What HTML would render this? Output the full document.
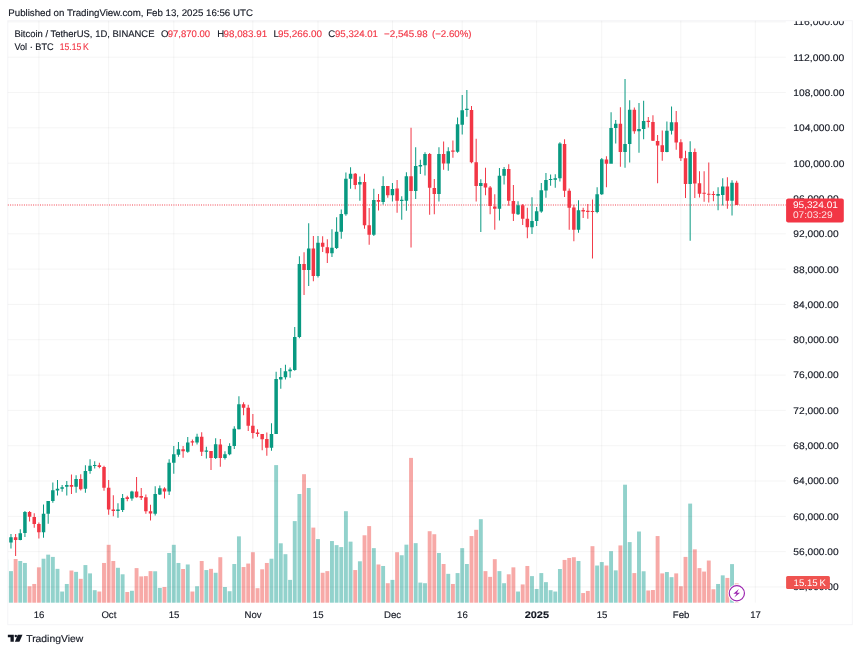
<!DOCTYPE html>
<html lang="en"><head><meta charset="utf-8"><title>BTCUSDT chart</title>
<style>html,body{margin:0;padding:0;background:#fff}body{width:860px;height:652px;overflow:hidden;position:relative}svg{position:absolute;left:0;top:0;display:block}text{font-family:"Liberation Sans", Arial, sans-serif;fill:#131722;text-rendering:geometricPrecision;stroke:#131722;stroke-width:.14px;paint-order:stroke}.ax{font-size:9.6px}.hd{font-size:9.6px}.r,.r tspan{fill:#F23645;stroke:#F23645}.w{fill:#fff;stroke:none}</style></head><body>
<svg style="will-change:transform" width="860" height="652" viewBox="0 0 860 652">
<rect width="860" height="652" fill="#fff"/>
<text class="hd" x="8.3" y="15.6" textLength="244.6" lengthAdjust="spacingAndGlyphs">Published on TradingView.com, Feb 13, 2025 16:56 UTC</text>
<defs><clipPath id="pc"><rect x="8.3" y="21.2" width="777.5" height="582.0"/></clipPath><clipPath id="fc"><rect x="8.3" y="21.2" width="843.5" height="603.0"/></clipPath></defs>
<rect x="7.8" y="20.7" width="844.5" height="604.0" fill="none" stroke="#f4f4f7" stroke-width="1"/>
<g clip-path="url(#pc)">
<rect x="4.37" y="559.50" width="3.90" height="43.20" fill="#92D2CC" opacity="0.5"/>
<rect x="9.02" y="571.12" width="3.90" height="31.58" fill="#92D2CC"/>
<rect x="13.67" y="559.02" width="3.90" height="43.68" fill="#F7A9A7"/>
<rect x="18.32" y="560.99" width="3.90" height="41.71" fill="#92D2CC"/>
<rect x="22.98" y="562.96" width="3.90" height="39.74" fill="#92D2CC"/>
<rect x="27.63" y="586.24" width="3.90" height="16.46" fill="#F7A9A7"/>
<rect x="32.28" y="583.97" width="3.90" height="18.73" fill="#F7A9A7"/>
<rect x="36.93" y="567.34" width="3.90" height="35.36" fill="#F7A9A7"/>
<rect x="41.58" y="558.72" width="3.90" height="43.98" fill="#92D2CC"/>
<rect x="46.24" y="554.64" width="3.90" height="48.06" fill="#92D2CC"/>
<rect x="50.89" y="556.91" width="3.90" height="45.79" fill="#92D2CC"/>
<rect x="55.54" y="568.85" width="3.90" height="33.85" fill="#92D2CC"/>
<rect x="60.19" y="591.53" width="3.90" height="11.17" fill="#92D2CC"/>
<rect x="64.84" y="583.97" width="3.90" height="18.73" fill="#92D2CC"/>
<rect x="69.50" y="570.51" width="3.90" height="32.19" fill="#F7A9A7"/>
<rect x="74.15" y="571.87" width="3.90" height="30.83" fill="#92D2CC"/>
<rect x="78.80" y="578.83" width="3.90" height="23.87" fill="#F7A9A7"/>
<rect x="83.45" y="565.07" width="3.90" height="37.63" fill="#92D2CC"/>
<rect x="88.10" y="573.39" width="3.90" height="29.31" fill="#92D2CC"/>
<rect x="92.76" y="590.17" width="3.90" height="12.53" fill="#92D2CC"/>
<rect x="97.41" y="591.53" width="3.90" height="11.17" fill="#F7A9A7"/>
<rect x="102.06" y="562.96" width="3.90" height="39.74" fill="#F7A9A7"/>
<rect x="106.71" y="544.81" width="3.90" height="57.89" fill="#F7A9A7"/>
<rect x="111.36" y="560.99" width="3.90" height="41.71" fill="#F7A9A7"/>
<rect x="116.02" y="567.79" width="3.90" height="34.91" fill="#92D2CC"/>
<rect x="120.67" y="574.29" width="3.90" height="28.41" fill="#92D2CC"/>
<rect x="125.32" y="591.98" width="3.90" height="10.72" fill="#F7A9A7"/>
<rect x="129.97" y="590.77" width="3.90" height="11.93" fill="#92D2CC"/>
<rect x="134.62" y="568.10" width="3.90" height="34.60" fill="#F7A9A7"/>
<rect x="139.28" y="576.41" width="3.90" height="26.29" fill="#F7A9A7"/>
<rect x="143.93" y="576.11" width="3.90" height="26.59" fill="#F7A9A7"/>
<rect x="148.58" y="571.12" width="3.90" height="31.58" fill="#F7A9A7"/>
<rect x="153.23" y="571.27" width="3.90" height="31.43" fill="#92D2CC"/>
<rect x="157.88" y="587.90" width="3.90" height="14.80" fill="#92D2CC"/>
<rect x="162.54" y="586.99" width="3.90" height="15.71" fill="#F7A9A7"/>
<rect x="167.19" y="552.98" width="3.90" height="49.72" fill="#92D2CC"/>
<rect x="171.84" y="544.81" width="3.90" height="57.89" fill="#92D2CC"/>
<rect x="176.49" y="562.96" width="3.90" height="39.74" fill="#92D2CC"/>
<rect x="181.14" y="569.00" width="3.90" height="33.70" fill="#F7A9A7"/>
<rect x="185.80" y="564.47" width="3.90" height="38.23" fill="#92D2CC"/>
<rect x="190.45" y="591.53" width="3.90" height="11.17" fill="#F7A9A7"/>
<rect x="195.10" y="586.24" width="3.90" height="16.46" fill="#92D2CC"/>
<rect x="199.75" y="560.99" width="3.90" height="41.71" fill="#F7A9A7"/>
<rect x="204.40" y="570.06" width="3.90" height="32.64" fill="#92D2CC"/>
<rect x="209.06" y="568.85" width="3.90" height="33.85" fill="#F7A9A7"/>
<rect x="213.71" y="572.78" width="3.90" height="29.92" fill="#92D2CC"/>
<rect x="218.36" y="557.21" width="3.90" height="45.49" fill="#F7A9A7"/>
<rect x="223.01" y="586.99" width="3.90" height="15.71" fill="#92D2CC"/>
<rect x="227.66" y="591.22" width="3.90" height="11.48" fill="#92D2CC"/>
<rect x="232.32" y="564.01" width="3.90" height="38.69" fill="#92D2CC"/>
<rect x="236.97" y="536.35" width="3.90" height="66.35" fill="#92D2CC"/>
<rect x="241.62" y="567.04" width="3.90" height="35.66" fill="#F7A9A7"/>
<rect x="246.27" y="563.56" width="3.90" height="39.14" fill="#F7A9A7"/>
<rect x="250.92" y="552.22" width="3.90" height="50.48" fill="#F7A9A7"/>
<rect x="255.58" y="588.20" width="3.90" height="14.50" fill="#F7A9A7"/>
<rect x="260.23" y="569.30" width="3.90" height="33.40" fill="#F7A9A7"/>
<rect x="264.88" y="562.96" width="3.90" height="39.74" fill="#F7A9A7"/>
<rect x="269.53" y="558.72" width="3.90" height="43.98" fill="#92D2CC"/>
<rect x="274.18" y="465.10" width="3.90" height="137.60" fill="#92D2CC"/>
<rect x="278.84" y="543.30" width="3.90" height="59.40" fill="#92D2CC"/>
<rect x="283.49" y="554.19" width="3.90" height="48.51" fill="#92D2CC"/>
<rect x="288.14" y="579.89" width="3.90" height="22.81" fill="#92D2CC"/>
<rect x="292.79" y="521.10" width="3.90" height="81.60" fill="#92D2CC"/>
<rect x="297.44" y="494.00" width="3.90" height="108.70" fill="#92D2CC"/>
<rect x="302.10" y="474.20" width="3.90" height="128.50" fill="#F7A9A7"/>
<rect x="306.75" y="488.00" width="3.90" height="114.70" fill="#92D2CC"/>
<rect x="311.40" y="527.60" width="3.90" height="75.10" fill="#F7A9A7"/>
<rect x="316.05" y="539.07" width="3.90" height="63.63" fill="#92D2CC"/>
<rect x="320.70" y="572.78" width="3.90" height="29.92" fill="#F7A9A7"/>
<rect x="325.36" y="571.12" width="3.90" height="31.58" fill="#F7A9A7"/>
<rect x="330.01" y="541.04" width="3.90" height="61.66" fill="#92D2CC"/>
<rect x="334.66" y="545.12" width="3.90" height="57.58" fill="#92D2CC"/>
<rect x="339.31" y="547.08" width="3.90" height="55.62" fill="#92D2CC"/>
<rect x="343.96" y="511.20" width="3.90" height="91.50" fill="#92D2CC"/>
<rect x="348.62" y="541.64" width="3.90" height="61.06" fill="#92D2CC"/>
<rect x="353.27" y="570.06" width="3.90" height="32.64" fill="#F7A9A7"/>
<rect x="357.92" y="561.29" width="3.90" height="41.41" fill="#92D2CC"/>
<rect x="362.57" y="535.29" width="3.90" height="67.41" fill="#F7A9A7"/>
<rect x="367.22" y="526.10" width="3.90" height="76.60" fill="#F7A9A7"/>
<rect x="371.88" y="548.14" width="3.90" height="54.56" fill="#92D2CC"/>
<rect x="376.53" y="564.47" width="3.90" height="38.23" fill="#F7A9A7"/>
<rect x="381.18" y="565.98" width="3.90" height="36.72" fill="#92D2CC"/>
<rect x="385.83" y="583.21" width="3.90" height="19.49" fill="#F7A9A7"/>
<rect x="390.48" y="579.89" width="3.90" height="22.81" fill="#92D2CC"/>
<rect x="395.14" y="552.22" width="3.90" height="50.48" fill="#F7A9A7"/>
<rect x="399.79" y="555.25" width="3.90" height="47.45" fill="#92D2CC"/>
<rect x="404.44" y="544.66" width="3.90" height="58.04" fill="#92D2CC"/>
<rect x="409.09" y="457.90" width="3.90" height="144.80" fill="#F7A9A7"/>
<rect x="413.74" y="543.15" width="3.90" height="59.55" fill="#92D2CC"/>
<rect x="418.40" y="582.61" width="3.90" height="20.09" fill="#92D2CC"/>
<rect x="423.05" y="583.21" width="3.90" height="19.49" fill="#92D2CC"/>
<rect x="427.70" y="531.21" width="3.90" height="71.49" fill="#F7A9A7"/>
<rect x="432.35" y="534.23" width="3.90" height="68.47" fill="#F7A9A7"/>
<rect x="437.00" y="552.98" width="3.90" height="49.72" fill="#92D2CC"/>
<rect x="441.66" y="564.01" width="3.90" height="38.69" fill="#F7A9A7"/>
<rect x="446.31" y="573.84" width="3.90" height="28.86" fill="#92D2CC"/>
<rect x="450.96" y="583.97" width="3.90" height="18.73" fill="#F7A9A7"/>
<rect x="455.61" y="573.08" width="3.90" height="29.62" fill="#92D2CC"/>
<rect x="460.26" y="548.14" width="3.90" height="54.56" fill="#92D2CC"/>
<rect x="464.92" y="564.01" width="3.90" height="38.69" fill="#92D2CC"/>
<rect x="469.57" y="536.05" width="3.90" height="66.65" fill="#F7A9A7"/>
<rect x="474.22" y="529.80" width="3.90" height="72.90" fill="#F7A9A7"/>
<rect x="478.87" y="519.20" width="3.90" height="83.50" fill="#92D2CC"/>
<rect x="483.52" y="571.12" width="3.90" height="31.58" fill="#F7A9A7"/>
<rect x="488.18" y="576.86" width="3.90" height="25.84" fill="#F7A9A7"/>
<rect x="492.83" y="559.18" width="3.90" height="43.52" fill="#F7A9A7"/>
<rect x="497.48" y="571.12" width="3.90" height="31.58" fill="#92D2CC"/>
<rect x="502.13" y="583.21" width="3.90" height="19.49" fill="#92D2CC"/>
<rect x="506.78" y="574.29" width="3.90" height="28.41" fill="#F7A9A7"/>
<rect x="511.44" y="567.34" width="3.90" height="35.36" fill="#F7A9A7"/>
<rect x="516.09" y="591.53" width="3.90" height="11.17" fill="#92D2CC"/>
<rect x="520.74" y="584.42" width="3.90" height="18.28" fill="#F7A9A7"/>
<rect x="525.39" y="565.98" width="3.90" height="36.72" fill="#F7A9A7"/>
<rect x="530.04" y="576.11" width="3.90" height="26.59" fill="#92D2CC"/>
<rect x="534.70" y="588.96" width="3.90" height="13.74" fill="#92D2CC"/>
<rect x="539.35" y="573.08" width="3.90" height="29.62" fill="#92D2CC"/>
<rect x="544.00" y="582.15" width="3.90" height="20.55" fill="#92D2CC"/>
<rect x="548.65" y="590.17" width="3.90" height="12.53" fill="#92D2CC"/>
<rect x="553.30" y="591.53" width="3.90" height="11.17" fill="#92D2CC"/>
<rect x="557.96" y="569.00" width="3.90" height="33.70" fill="#92D2CC"/>
<rect x="562.61" y="559.93" width="3.90" height="42.77" fill="#F7A9A7"/>
<rect x="567.26" y="557.97" width="3.90" height="44.73" fill="#F7A9A7"/>
<rect x="571.91" y="557.21" width="3.90" height="45.49" fill="#F7A9A7"/>
<rect x="576.56" y="560.99" width="3.90" height="41.71" fill="#92D2CC"/>
<rect x="581.22" y="593.04" width="3.90" height="9.66" fill="#F7A9A7"/>
<rect x="585.87" y="590.92" width="3.90" height="11.78" fill="#F7A9A7"/>
<rect x="590.52" y="546.18" width="3.90" height="56.52" fill="#F7A9A7"/>
<rect x="595.17" y="565.53" width="3.90" height="37.17" fill="#92D2CC"/>
<rect x="599.82" y="562.05" width="3.90" height="40.65" fill="#92D2CC"/>
<rect x="604.48" y="565.53" width="3.90" height="37.17" fill="#F7A9A7"/>
<rect x="609.13" y="551.16" width="3.90" height="51.54" fill="#92D2CC"/>
<rect x="613.78" y="570.36" width="3.90" height="32.34" fill="#92D2CC"/>
<rect x="618.43" y="545.42" width="3.90" height="57.28" fill="#F7A9A7"/>
<rect x="623.08" y="484.70" width="3.90" height="118.00" fill="#92D2CC"/>
<rect x="627.74" y="542.09" width="3.90" height="60.61" fill="#92D2CC"/>
<rect x="632.39" y="573.08" width="3.90" height="29.62" fill="#F7A9A7"/>
<rect x="637.04" y="531.51" width="3.90" height="71.19" fill="#92D2CC"/>
<rect x="641.69" y="571.27" width="3.90" height="31.43" fill="#92D2CC"/>
<rect x="646.34" y="590.47" width="3.90" height="12.23" fill="#F7A9A7"/>
<rect x="651.00" y="590.02" width="3.90" height="12.68" fill="#F7A9A7"/>
<rect x="655.65" y="536.05" width="3.90" height="66.65" fill="#F7A9A7"/>
<rect x="660.30" y="573.39" width="3.90" height="29.31" fill="#F7A9A7"/>
<rect x="664.95" y="572.03" width="3.90" height="30.67" fill="#92D2CC"/>
<rect x="669.60" y="577.17" width="3.90" height="25.53" fill="#92D2CC"/>
<rect x="674.26" y="573.39" width="3.90" height="29.31" fill="#F7A9A7"/>
<rect x="678.91" y="586.24" width="3.90" height="16.46" fill="#F7A9A7"/>
<rect x="683.56" y="556.91" width="3.90" height="45.79" fill="#F7A9A7"/>
<rect x="688.21" y="503.60" width="3.90" height="99.10" fill="#92D2CC"/>
<rect x="692.86" y="549.35" width="3.90" height="53.35" fill="#F7A9A7"/>
<rect x="697.52" y="568.10" width="3.90" height="34.60" fill="#F7A9A7"/>
<rect x="702.17" y="571.57" width="3.90" height="31.13" fill="#F7A9A7"/>
<rect x="706.82" y="560.54" width="3.90" height="42.16" fill="#F7A9A7"/>
<rect x="711.47" y="589.26" width="3.90" height="13.44" fill="#F7A9A7"/>
<rect x="716.12" y="583.97" width="3.90" height="18.73" fill="#92D2CC"/>
<rect x="720.78" y="575.35" width="3.90" height="27.35" fill="#92D2CC"/>
<rect x="725.43" y="577.92" width="3.90" height="24.78" fill="#F7A9A7"/>
<rect x="730.08" y="564.10" width="3.90" height="38.60" fill="#92D2CC"/>
<rect x="734.73" y="583.00" width="3.90" height="19.70" fill="#F7A9A7" opacity="0.6"/>
</g>
<g stroke="#131722" stroke-opacity="0.042" stroke-width="1">
<line x1="38.88" y1="20.7" x2="38.88" y2="602.7"/>
<line x1="108.66" y1="20.7" x2="108.66" y2="602.7"/>
<line x1="173.79" y1="20.7" x2="173.79" y2="602.7"/>
<line x1="252.87" y1="20.7" x2="252.87" y2="602.7"/>
<line x1="318.00" y1="20.7" x2="318.00" y2="602.7"/>
<line x1="392.43" y1="20.7" x2="392.43" y2="602.7"/>
<line x1="462.21" y1="20.7" x2="462.21" y2="602.7"/>
<line x1="536.65" y1="20.7" x2="536.65" y2="602.7"/>
<line x1="601.77" y1="20.7" x2="601.77" y2="602.7"/>
<line x1="680.86" y1="20.7" x2="680.86" y2="602.7"/>
<line x1="755.29" y1="20.7" x2="755.29" y2="602.7"/>
<line x1="7.8" y1="586.96" x2="785.8" y2="586.96"/>
<line x1="7.8" y1="551.64" x2="785.8" y2="551.64"/>
<line x1="7.8" y1="516.33" x2="785.8" y2="516.33"/>
<line x1="7.8" y1="481.01" x2="785.8" y2="481.01"/>
<line x1="7.8" y1="445.69" x2="785.8" y2="445.69"/>
<line x1="7.8" y1="410.37" x2="785.8" y2="410.37"/>
<line x1="7.8" y1="375.06" x2="785.8" y2="375.06"/>
<line x1="7.8" y1="339.74" x2="785.8" y2="339.74"/>
<line x1="7.8" y1="304.42" x2="785.8" y2="304.42"/>
<line x1="7.8" y1="269.10" x2="785.8" y2="269.10"/>
<line x1="7.8" y1="233.79" x2="785.8" y2="233.79"/>
<line x1="7.8" y1="198.47" x2="785.8" y2="198.47"/>
<line x1="7.8" y1="163.15" x2="785.8" y2="163.15"/>
<line x1="7.8" y1="127.83" x2="785.8" y2="127.83"/>
<line x1="7.8" y1="92.52" x2="785.8" y2="92.52"/>
<line x1="7.8" y1="57.20" x2="785.8" y2="57.20"/>
<line x1="7.8" y1="21.88" x2="785.8" y2="21.88"/>
</g>
<line x1="7.8" y1="205.05" x2="785.8" y2="205.05" stroke="#F23645" stroke-width="1.5" stroke-dasharray="1 1.3" opacity="0.62"/>
<g clip-path="url(#pc)">
<path fill="#089981" d="M10.47 533.88h1.00V548.40h-1.00z M9.22 537.26h3.50V542.49h-3.50z"/>
<path fill="#F23645" d="M15.12 533.88h1.00V555.99h-1.00z M13.87 537.26h3.50V539.96h-3.50z"/>
<path fill="#089981" d="M19.77 529.32h1.00V540.30h-1.00z M18.52 533.21h3.50V539.96h-3.50z"/>
<path fill="#089981" d="M24.43 511.10h1.00V536.92h-1.00z M23.18 512.11h3.50V533.04h-3.50z"/>
<path fill="#F23645" d="M29.08 511.10h1.00V521.39h-1.00z M27.83 512.11h3.50V516.67h-3.50z"/>
<path fill="#F23645" d="M33.73 513.29h1.00V527.64h-1.00z M32.48 517.00h3.50V523.92h-3.50z"/>
<path fill="#F23645" d="M38.38 522.57h1.00V538.61h-1.00z M37.13 523.92h3.50V532.36h-3.50z"/>
<path fill="#089981" d="M43.03 504.51h1.00V537.76h-1.00z M41.78 513.80h3.50V532.36h-3.50z"/>
<path fill="#089981" d="M47.69 500.97h1.00V523.76h-1.00z M46.44 500.97h3.50V513.80h-3.50z"/>
<path fill="#089981" d="M52.34 482.57h1.00V502.66h-1.00z M51.09 490.17h3.50V500.97h-3.50z"/>
<path fill="#089981" d="M56.99 480.04h1.00V495.57h-1.00z M55.74 488.82h3.50V490.51h-3.50z"/>
<path fill="#089981" d="M61.64 485.11h1.00V491.69h-1.00z M60.39 487.13h3.50V488.82h-3.50z"/>
<path fill="#089981" d="M66.29 480.89h1.00V495.57h-1.00z M65.04 485.11h3.50V486.79h-3.50z"/>
<path fill="#F23645" d="M70.95 474.47h1.00V493.88h-1.00z M69.70 485.11h3.50V486.79h-3.50z"/>
<path fill="#089981" d="M75.60 475.32h1.00V492.70h-1.00z M74.35 479.03h3.50V486.79h-3.50z"/>
<path fill="#F23645" d="M80.25 474.14h1.00V490.51h-1.00z M79.00 479.03h3.50V489.16h-3.50z"/>
<path fill="#089981" d="M84.90 465.19h1.00V492.70h-1.00z M83.65 471.10h3.50V488.82h-3.50z"/>
<path fill="#089981" d="M89.55 459.28h1.00V473.63h-1.00z M88.30 465.70h3.50V471.10h-3.50z"/>
<path fill="#089981" d="M94.21 461.31h1.00V468.57h-1.00z M92.96 465.11h3.50V466.11h-3.50z"/>
<path fill="#F23645" d="M98.86 462.66h1.00V468.23h-1.00z M97.61 465.19h3.50V466.88h-3.50z"/>
<path fill="#F23645" d="M103.51 465.70h1.00V490.68h-1.00z M102.26 466.88h3.50V487.64h-3.50z"/>
<path fill="#F23645" d="M108.16 480.04h1.00V514.64h-1.00z M106.91 487.64h3.50V509.58h-3.50z"/>
<path fill="#F23645" d="M112.81 495.23h1.00V516.33h-1.00z M111.56 509.58h3.50V510.93h-3.50z"/>
<path fill="#089981" d="M117.47 503.33h1.00V517.68h-1.00z M116.22 509.58h3.50V510.93h-3.50z"/>
<path fill="#089981" d="M122.12 493.88h1.00V512.11h-1.00z M120.87 498.10h3.50V509.92h-3.50z"/>
<path fill="#F23645" d="M126.77 495.74h1.00V501.14h-1.00z M125.52 497.26h3.50V498.95h-3.50z"/>
<path fill="#089981" d="M131.42 490.68h1.00V500.80h-1.00z M130.17 491.52h3.50V498.61h-3.50z"/>
<path fill="#F23645" d="M136.07 477.00h1.00V497.76h-1.00z M134.82 491.52h3.50V497.26h-3.50z"/>
<path fill="#F23645" d="M140.73 487.97h1.00V499.96h-1.00z M139.48 496.08h3.50V497.76h-3.50z"/>
<path fill="#F23645" d="M145.38 494.39h1.00V513.80h-1.00z M144.13 497.26h3.50V511.27h-3.50z"/>
<path fill="#F23645" d="M150.03 504.85h1.00V520.55h-1.00z M148.78 511.27h3.50V513.46h-3.50z"/>
<path fill="#089981" d="M154.68 486.29h1.00V515.49h-1.00z M153.43 494.05h3.50V513.80h-3.50z"/>
<path fill="#089981" d="M159.33 485.61h1.00V494.89h-1.00z M158.08 488.14h3.50V494.39h-3.50z"/>
<path fill="#F23645" d="M163.99 487.30h1.00V498.61h-1.00z M162.74 488.48h3.50V491.52h-3.50z"/>
<path fill="#089981" d="M168.64 459.28h1.00V494.89h-1.00z M167.39 462.83h3.50V491.52h-3.50z"/>
<path fill="#089981" d="M173.29 445.95h1.00V473.80h-1.00z M172.04 454.22h3.50V462.83h-3.50z"/>
<path fill="#089981" d="M177.94 442.07h1.00V456.75h-1.00z M176.69 449.32h3.50V454.73h-3.50z"/>
<path fill="#F23645" d="M182.59 445.95h1.00V457.76h-1.00z M181.34 449.16h3.50V451.35h-3.50z"/>
<path fill="#089981" d="M187.25 437.00h1.00V452.70h-1.00z M186.00 442.41h3.50V451.69h-3.50z"/>
<path fill="#F23645" d="M191.90 439.54h1.00V445.78h-1.00z M190.65 441.22h3.50V442.41h-3.50z"/>
<path fill="#089981" d="M196.55 433.63h1.00V444.60h-1.00z M195.30 436.67h3.50V442.57h-3.50z"/>
<path fill="#F23645" d="M201.20 432.28h1.00V455.91h-1.00z M199.95 436.67h3.50V451.69h-3.50z"/>
<path fill="#089981" d="M205.85 446.79h1.00V458.61h-1.00z M204.60 450.51h3.50V451.69h-3.50z"/>
<path fill="#F23645" d="M210.51 451.01h1.00V469.92h-1.00z M209.26 451.01h3.50V458.10h-3.50z"/>
<path fill="#089981" d="M215.16 438.35h1.00V458.95h-1.00z M213.91 444.26h3.50V458.10h-3.50z"/>
<path fill="#F23645" d="M219.81 438.99h1.00V466.67h-1.00z M218.56 444.39h3.50V457.89h-3.50z"/>
<path fill="#089981" d="M224.46 451.14h1.00V459.58h-1.00z M223.21 454.18h3.50V457.89h-3.50z"/>
<path fill="#089981" d="M229.11 443.21h1.00V455.36h-1.00z M227.86 446.08h3.50V454.18h-3.50z"/>
<path fill="#089981" d="M233.77 426.16h1.00V448.95h-1.00z M232.52 428.69h3.50V446.08h-3.50z"/>
<path fill="#089981" d="M238.42 396.29h1.00V429.54h-1.00z M237.17 404.22h3.50V429.20h-3.50z"/>
<path fill="#F23645" d="M243.07 402.19h1.00V415.36h-1.00z M241.82 404.22h3.50V407.76h-3.50z"/>
<path fill="#F23645" d="M247.72 404.73h1.00V430.89h-1.00z M246.47 407.76h3.50V425.82h-3.50z"/>
<path fill="#F23645" d="M252.37 414.01h1.00V438.48h-1.00z M251.12 425.82h3.50V432.91h-3.50z"/>
<path fill="#F23645" d="M257.03 429.20h1.00V436.79h-1.00z M255.78 432.57h3.50V433.92h-3.50z"/>
<path fill="#F23645" d="M261.68 433.92h1.00V450.30h-1.00z M260.43 433.92h3.50V439.32h-3.50z"/>
<path fill="#F23645" d="M266.33 432.57h1.00V455.86h-1.00z M265.08 438.99h3.50V447.76h-3.50z"/>
<path fill="#089981" d="M270.98 423.29h1.00V450.63h-1.00z M269.73 433.92h3.50V447.76h-3.50z"/>
<path fill="#089981" d="M275.63 371.81h1.00V433.92h-1.00z M274.38 379.07h3.50V433.92h-3.50z"/>
<path fill="#089981" d="M280.29 367.93h1.00V388.69h-1.00z M279.04 376.88h3.50V379.41h-3.50z"/>
<path fill="#089981" d="M284.94 364.73h1.00V379.41h-1.00z M283.69 371.31h3.50V377.22h-3.50z"/>
<path fill="#089981" d="M289.59 367.59h1.00V377.72h-1.00z M288.34 369.62h3.50V371.31h-3.50z"/>
<path fill="#089981" d="M294.24 326.88h1.00V370.76h-1.00z M292.99 337.00h3.50V369.92h-3.50z"/>
<path fill="#089981" d="M298.89 256.14h1.00V338.35h-1.00z M297.64 264.07h3.50V337.00h-3.50z"/>
<path fill="#F23645" d="M303.55 252.26h1.00V294.98h-1.00z M302.30 264.07h3.50V269.98h-3.50z"/>
<path fill="#089981" d="M308.20 223.23h1.00V286.03h-1.00z M306.95 248.54h3.50V269.98h-3.50z"/>
<path fill="#F23645" d="M312.85 235.89h1.00V281.31h-1.00z M311.60 248.54h3.50V275.91h-3.50z"/>
<path fill="#089981" d="M317.50 235.89h1.00V277.59h-1.00z M316.25 242.64h3.50V275.91h-3.50z"/>
<path fill="#F23645" d="M322.15 236.22h1.00V251.92h-1.00z M320.90 242.64h3.50V246.86h-3.50z"/>
<path fill="#F23645" d="M326.81 239.26h1.00V262.89h-1.00z M325.56 247.19h3.50V253.27h-3.50z"/>
<path fill="#089981" d="M331.46 229.14h1.00V256.98h-1.00z M330.21 247.70h3.50V253.27h-3.50z"/>
<path fill="#089981" d="M336.11 217.32h1.00V248.88h-1.00z M334.86 231.67h3.50V248.04h-3.50z"/>
<path fill="#089981" d="M340.76 209.39h1.00V238.76h-1.00z M339.51 213.95h3.50V231.67h-3.50z"/>
<path fill="#089981" d="M345.41 172.59h1.00V215.63h-1.00z M344.16 178.84h3.50V214.28h-3.50z"/>
<path fill="#089981" d="M350.07 167.19h1.00V188.63h-1.00z M348.82 173.78h3.50V178.84h-3.50z"/>
<path fill="#F23645" d="M354.72 173.10h1.00V189.14h-1.00z M353.47 173.78h3.50V184.92h-3.50z"/>
<path fill="#089981" d="M359.37 176.48h1.00V200.78h-1.00z M358.12 181.88h3.50V184.41h-3.50z"/>
<path fill="#F23645" d="M364.02 173.78h1.00V228.80h-1.00z M362.77 181.88h3.50V225.25h-3.50z"/>
<path fill="#F23645" d="M368.67 208.04h1.00V244.66h-1.00z M367.42 225.25h3.50V234.70h-3.50z"/>
<path fill="#089981" d="M373.33 188.63h1.00V235.89h-1.00z M372.08 200.11h3.50V234.70h-3.50z"/>
<path fill="#F23645" d="M377.98 194.03h1.00V210.57h-1.00z M376.73 200.11h3.50V201.79h-3.50z"/>
<path fill="#089981" d="M382.63 176.22h1.00V204.41h-1.00z M381.38 186.01h3.50V201.88h-3.50z"/>
<path fill="#F23645" d="M387.28 186.01h1.00V197.66h-1.00z M386.03 186.01h3.50V195.13h-3.50z"/>
<path fill="#089981" d="M391.93 182.97h1.00V201.54h-1.00z M390.68 188.88h3.50V195.13h-3.50z"/>
<path fill="#F23645" d="M396.59 180.11h1.00V212.85h-1.00z M395.34 188.38h3.50V200.70h-3.50z"/>
<path fill="#089981" d="M401.24 196.14h1.00V219.77h-1.00z M399.99 199.85h3.50V201.03h-3.50z"/>
<path fill="#089981" d="M405.89 172.34h1.00V210.82h-1.00z M404.64 176.22h3.50V200.70h-3.50z"/>
<path fill="#F23645" d="M410.54 127.72h1.00V247.45h-1.00z M409.29 176.22h3.50V190.91h-3.50z"/>
<path fill="#089981" d="M415.19 147.13h1.00V199.01h-1.00z M413.94 166.10h3.50V190.91h-3.50z"/>
<path fill="#089981" d="M419.85 159.68h1.00V174.03h-1.00z M418.60 164.92h3.50V166.43h-3.50z"/>
<path fill="#089981" d="M424.50 152.26h1.00V175.38h-1.00z M423.25 153.95h3.50V165.25h-3.50z"/>
<path fill="#F23645" d="M429.15 152.93h1.00V214.70h-1.00z M427.90 153.95h3.50V187.70h-3.50z"/>
<path fill="#F23645" d="M433.80 179.09h1.00V214.20h-1.00z M432.55 188.04h3.50V193.95h-3.50z"/>
<path fill="#089981" d="M438.45 147.19h1.00V201.54h-1.00z M437.20 153.95h3.50V193.95h-3.50z"/>
<path fill="#F23645" d="M443.11 141.39h1.00V169.81h-1.00z M441.86 153.95h3.50V163.57h-3.50z"/>
<path fill="#089981" d="M447.76 147.19h1.00V170.65h-1.00z M446.51 151.24h3.50V163.57h-3.50z"/>
<path fill="#F23645" d="M452.41 140.38h1.00V157.66h-1.00z M451.16 150.57h3.50V151.75h-3.50z"/>
<path fill="#089981" d="M457.06 117.59h1.00V152.70h-1.00z M455.81 124.35h3.50V151.86h-3.50z"/>
<path fill="#089981" d="M461.71 94.98h1.00V134.47h-1.00z M460.46 110.17h3.50V124.85h-3.50z"/>
<path fill="#089981" d="M466.37 89.92h1.00V116.75h-1.00z M465.12 108.82h3.50V110.00h-3.50z"/>
<path fill="#F23645" d="M471.02 105.95h1.00V163.33h-1.00z M469.77 110.00h3.50V162.32h-3.50z"/>
<path fill="#F23645" d="M475.67 138.86h1.00V201.54h-1.00z M474.42 162.22h3.50V186.01h-3.50z"/>
<path fill="#089981" d="M480.32 179.26h1.00V231.92h-1.00z M479.07 182.97h3.50V186.01h-3.50z"/>
<path fill="#F23645" d="M484.97 167.78h1.00V195.13h-1.00z M483.72 183.31h3.50V187.53h-3.50z"/>
<path fill="#F23645" d="M489.63 186.01h1.00V214.20h-1.00z M488.38 187.53h3.50V206.10h-3.50z"/>
<path fill="#F23645" d="M494.28 194.22h1.00V229.66h-1.00z M493.03 206.54h3.50V208.73h-3.50z"/>
<path fill="#089981" d="M498.93 168.06h1.00V220.38h-1.00z M497.68 175.65h3.50V208.73h-3.50z"/>
<path fill="#089981" d="M503.58 166.88h1.00V184.60h-1.00z M502.33 168.90h3.50V175.65h-3.50z"/>
<path fill="#F23645" d="M508.23 164.35h1.00V205.70h-1.00z M506.98 168.90h3.50V200.63h-3.50z"/>
<path fill="#F23645" d="M512.89 185.11h1.00V220.89h-1.00z M511.64 200.97h3.50V213.80h-3.50z"/>
<path fill="#089981" d="M517.54 201.14h1.00V214.98h-1.00z M516.29 205.19h3.50V214.14h-3.50z"/>
<path fill="#F23645" d="M522.19 204.01h1.00V225.11h-1.00z M520.94 205.19h3.50V218.86h-3.50z"/>
<path fill="#F23645" d="M526.84 207.72h1.00V238.27h-1.00z M525.59 218.86h3.50V227.13h-3.50z"/>
<path fill="#089981" d="M531.49 197.26h1.00V233.88h-1.00z M530.24 220.89h3.50V227.13h-3.50z"/>
<path fill="#089981" d="M536.15 206.88h1.00V225.95h-1.00z M534.90 211.27h3.50V220.89h-3.50z"/>
<path fill="#089981" d="M540.80 182.91h1.00V212.78h-1.00z M539.55 190.17h3.50V211.60h-3.50z"/>
<path fill="#089981" d="M545.45 173.12h1.00V197.76h-1.00z M544.20 180.04h3.50V190.51h-3.50z"/>
<path fill="#089981" d="M550.10 174.47h1.00V185.78h-1.00z M548.85 179.03h3.50V180.04h-3.50z"/>
<path fill="#089981" d="M554.75 174.14h1.00V187.64h-1.00z M553.50 178.35h3.50V179.87h-3.50z"/>
<path fill="#089981" d="M559.41 142.19h1.00V181.56h-1.00z M558.16 143.54h3.50V178.35h-3.50z"/>
<path fill="#F23645" d="M564.06 139.32h1.00V196.92h-1.00z M562.81 143.88h3.50V190.84h-3.50z"/>
<path fill="#F23645" d="M568.71 188.48h1.00V229.66h-1.00z M567.46 190.84h3.50V207.72h-3.50z"/>
<path fill="#F23645" d="M573.36 204.85h1.00V241.14h-1.00z M572.11 207.38h3.50V229.66h-3.50z"/>
<path fill="#089981" d="M578.01 200.30h1.00V232.70h-1.00z M576.76 210.25h3.50V229.66h-3.50z"/>
<path fill="#F23645" d="M582.67 207.72h1.00V218.02h-1.00z M581.42 209.92h3.50V211.60h-3.50z"/>
<path fill="#F23645" d="M587.32 204.01h1.00V218.86h-1.00z M586.07 210.76h3.50V211.94h-3.50z"/>
<path fill="#F23645" d="M591.97 199.45h1.00V258.52h-1.00z M590.72 211.10h3.50V212.11h-3.50z"/>
<path fill="#089981" d="M596.62 187.13h1.00V213.29h-1.00z M595.37 194.22h3.50V212.11h-3.50z"/>
<path fill="#089981" d="M601.27 157.89h1.00V195.06h-1.00z M600.02 159.28h3.50V194.22h-3.50z"/>
<path fill="#F23645" d="M605.93 156.20h1.00V187.13h-1.00z M604.68 159.58h3.50V163.80h-3.50z"/>
<path fill="#089981" d="M610.58 112.32h1.00V163.80h-1.00z M609.33 128.02h3.50V163.80h-3.50z"/>
<path fill="#089981" d="M615.23 119.92h1.00V143.54h-1.00z M613.98 123.80h3.50V128.02h-3.50z"/>
<path fill="#F23645" d="M619.88 107.26h1.00V166.67h-1.00z M618.63 123.80h3.50V151.98h-3.50z"/>
<path fill="#089981" d="M624.53 79.07h1.00V167.68h-1.00z M623.28 143.88h3.50V151.98h-3.50z"/>
<path fill="#089981" d="M629.19 100.17h1.00V162.62h-1.00z M627.94 109.79h3.50V143.88h-3.50z"/>
<path fill="#F23645" d="M633.84 107.59h1.00V133.76h-1.00z M632.59 109.79h3.50V131.22h-3.50z"/>
<path fill="#089981" d="M638.49 103.04h1.00V152.66h-1.00z M637.24 129.03h3.50V131.22h-3.50z"/>
<path fill="#089981" d="M643.14 100.84h1.00V139.32h-1.00z M641.89 121.10h3.50V129.03h-3.50z"/>
<path fill="#F23645" d="M647.79 116.88h1.00V127.51h-1.00z M646.54 120.76h3.50V121.94h-3.50z"/>
<path fill="#F23645" d="M652.45 115.19h1.00V141.01h-1.00z M651.20 121.94h3.50V140.84h-3.50z"/>
<path fill="#F23645" d="M657.10 135.11h1.00V183.21h-1.00z M655.85 141.01h3.50V145.57h-3.50z"/>
<path fill="#F23645" d="M661.75 130.38h1.00V160.76h-1.00z M660.50 145.23h3.50V151.98h-3.50z"/>
<path fill="#089981" d="M666.40 121.60h1.00V152.32h-1.00z M665.15 130.72h3.50V151.98h-3.50z"/>
<path fill="#089981" d="M671.05 106.41h1.00V134.60h-1.00z M669.80 122.28h3.50V130.72h-3.50z"/>
<path fill="#F23645" d="M675.71 110.97h1.00V149.79h-1.00z M674.46 122.28h3.50V142.53h-3.50z"/>
<path fill="#F23645" d="M680.36 139.32h1.00V161.10h-1.00z M679.11 142.19h3.50V158.23h-3.50z"/>
<path fill="#F23645" d="M685.01 150.63h1.00V197.89h-1.00z M683.76 158.23h3.50V183.88h-3.50z"/>
<path fill="#089981" d="M689.66 141.35h1.00V240.63h-1.00z M688.41 151.98h3.50V183.88h-3.50z"/>
<path fill="#F23645" d="M694.31 148.61h1.00V197.89h-1.00z M693.06 151.98h3.50V183.54h-3.50z"/>
<path fill="#F23645" d="M698.97 171.22h1.00V197.55h-1.00z M697.72 183.21h3.50V193.67h-3.50z"/>
<path fill="#F23645" d="M703.62 171.22h1.00V201.77h-1.00z M702.37 192.83h3.50V193.84h-3.50z"/>
<path fill="#F23645" d="M708.27 162.45h1.00V202.45h-1.00z M707.02 193.67h3.50V194.85h-3.50z"/>
<path fill="#F23645" d="M712.92 191.14h1.00V201.27h-1.00z M711.67 194.01h3.50V195.02h-3.50z"/>
<path fill="#089981" d="M717.57 187.26h1.00V210.25h-1.00z M716.32 194.01h3.50V195.86h-3.50z"/>
<path fill="#089981" d="M722.23 178.14h1.00V205.49h-1.00z M720.98 186.58h3.50V195.02h-3.50z"/>
<path fill="#F23645" d="M726.88 177.13h1.00V208.86h-1.00z M725.63 186.58h3.50V200.76h-3.50z"/>
<path fill="#089981" d="M731.53 180.17h1.00V215.49h-1.00z M730.28 182.70h3.50V200.76h-3.50z"/>
<path fill="#F23645" d="M736.18 180.68h1.00V204.98h-1.00z M734.93 182.70h3.50V204.98h-3.50z"/>
</g>
<g clip-path="url(#fc)" class="ax">
<text x="793.3" y="590.36" textLength="45.4" lengthAdjust="spacingAndGlyphs">52,000.00</text>
<text x="793.3" y="555.04" textLength="45.4" lengthAdjust="spacingAndGlyphs">56,000.00</text>
<text x="793.3" y="519.73" textLength="45.4" lengthAdjust="spacingAndGlyphs">60,000.00</text>
<text x="793.3" y="484.41" textLength="45.4" lengthAdjust="spacingAndGlyphs">64,000.00</text>
<text x="793.3" y="449.09" textLength="45.4" lengthAdjust="spacingAndGlyphs">68,000.00</text>
<text x="793.3" y="413.77" textLength="45.4" lengthAdjust="spacingAndGlyphs">72,000.00</text>
<text x="793.3" y="378.46" textLength="45.4" lengthAdjust="spacingAndGlyphs">76,000.00</text>
<text x="793.3" y="343.14" textLength="45.4" lengthAdjust="spacingAndGlyphs">80,000.00</text>
<text x="793.3" y="307.82" textLength="45.4" lengthAdjust="spacingAndGlyphs">84,000.00</text>
<text x="793.3" y="272.50" textLength="45.4" lengthAdjust="spacingAndGlyphs">88,000.00</text>
<text x="793.3" y="237.19" textLength="45.4" lengthAdjust="spacingAndGlyphs">92,000.00</text>
<text x="793.3" y="201.87" textLength="45.4" lengthAdjust="spacingAndGlyphs">96,000.00</text>
<text x="793.3" y="166.55" textLength="51.0" lengthAdjust="spacingAndGlyphs">100,000.00</text>
<text x="793.3" y="131.23" textLength="51.0" lengthAdjust="spacingAndGlyphs">104,000.00</text>
<text x="793.3" y="95.92" textLength="51.0" lengthAdjust="spacingAndGlyphs">108,000.00</text>
<text x="793.3" y="60.60" textLength="51.0" lengthAdjust="spacingAndGlyphs">112,000.00</text>
<text x="793.3" y="25.28" textLength="51.0" lengthAdjust="spacingAndGlyphs">116,000.00</text>
</g>
<rect x="786.1" y="576" width="43.8" height="13.1" rx="1.5" fill="#EF5350"/>
<text class="ax w" x="793.6" y="585.7" textLength="32.3" lengthAdjust="spacingAndGlyphs">15.15 K</text>
<rect x="786.1" y="198.5" width="57.7" height="23.9" rx="2" fill="#F23645"/>
<text class="ax w" x="792.9" y="207.9" textLength="45" lengthAdjust="spacingAndGlyphs">95,324.01</text>
<text class="ax w" x="792.9" y="218.4" textLength="39.7" lengthAdjust="spacingAndGlyphs" opacity="0.85">07:03:29</text>
<g class="ax" text-anchor="middle">
<text x="39.08" y="618">16</text>
<text x="108.86" y="618">Oct</text>
<text x="173.99" y="618">15</text>
<text x="253.07" y="618">Nov</text>
<text x="318.20" y="618">15</text>
<text x="392.63" y="618">Dec</text>
<text x="462.41" y="618">16</text>
<text x="536.85" y="618" font-weight="bold" stroke="none" textLength="24.3" lengthAdjust="spacingAndGlyphs">2025</text>
<text x="601.97" y="618">15</text>
<text x="681.06" y="618">Feb</text>
<text x="755.49" y="618">17</text>
</g>
<g class="hd">
<text x="14.4" y="36.6" textLength="140.1" lengthAdjust="spacingAndGlyphs">Bitcoin / TetherUS, 1D, BINANCE</text>
<text x="161.0" y="36.6">O</text><text class="r" x="167.7" y="36.6" textLength="42.5" lengthAdjust="spacingAndGlyphs">97,870.00</text>
<text x="217.3" y="36.6">H</text><text class="r" x="223.6" y="36.6" textLength="43.5" lengthAdjust="spacingAndGlyphs">98,083.91</text>
<text x="273.4" y="36.6">L</text><text class="r" x="278.0" y="36.6" textLength="44.0" lengthAdjust="spacingAndGlyphs">95,266.00</text>
<text x="328.3" y="36.6">C</text><text class="r" x="335.0" y="36.6" textLength="42.9" lengthAdjust="spacingAndGlyphs">95,324.01</text>
<text class="r" x="384.1" y="36.6" textLength="43.6" lengthAdjust="spacingAndGlyphs">−2,545.98</text>
<text class="r" x="431.9" y="36.6" textLength="39.7" lengthAdjust="spacingAndGlyphs">(−2.60%)</text>
<text x="14.4" y="49.6" textLength="39.3" lengthAdjust="spacingAndGlyphs">Vol · BTC</text>
<text class="r" x="59.7" y="49.6" textLength="29" lengthAdjust="spacingAndGlyphs">15.15 K</text>
</g>
<g transform="translate(736.85 593.3)"><circle r="9" fill="#fff"/><circle r="7.6" fill="#fff" stroke="#9C27B0" stroke-width="1.2"/><path d="M2 -4.2L-3.5 0.5L-0.2 0.5L-2.6 4.3L3.2 -0.6L0.1 -0.6z" fill="#9C27B0"/></g>
<g fill="#131722"><path d="M7.85 634.7H13.8V641.7H10.5V637.3H7.85z"/><circle cx="15.8" cy="636" r="1.2"/><path d="M17.8 634.7H22.5L19.4 641.7H14.9z"/></g>
<text x="26.2" y="641.9" style="font-size:10px" textLength="57" lengthAdjust="spacingAndGlyphs">TradingView</text>
</svg></body></html>
